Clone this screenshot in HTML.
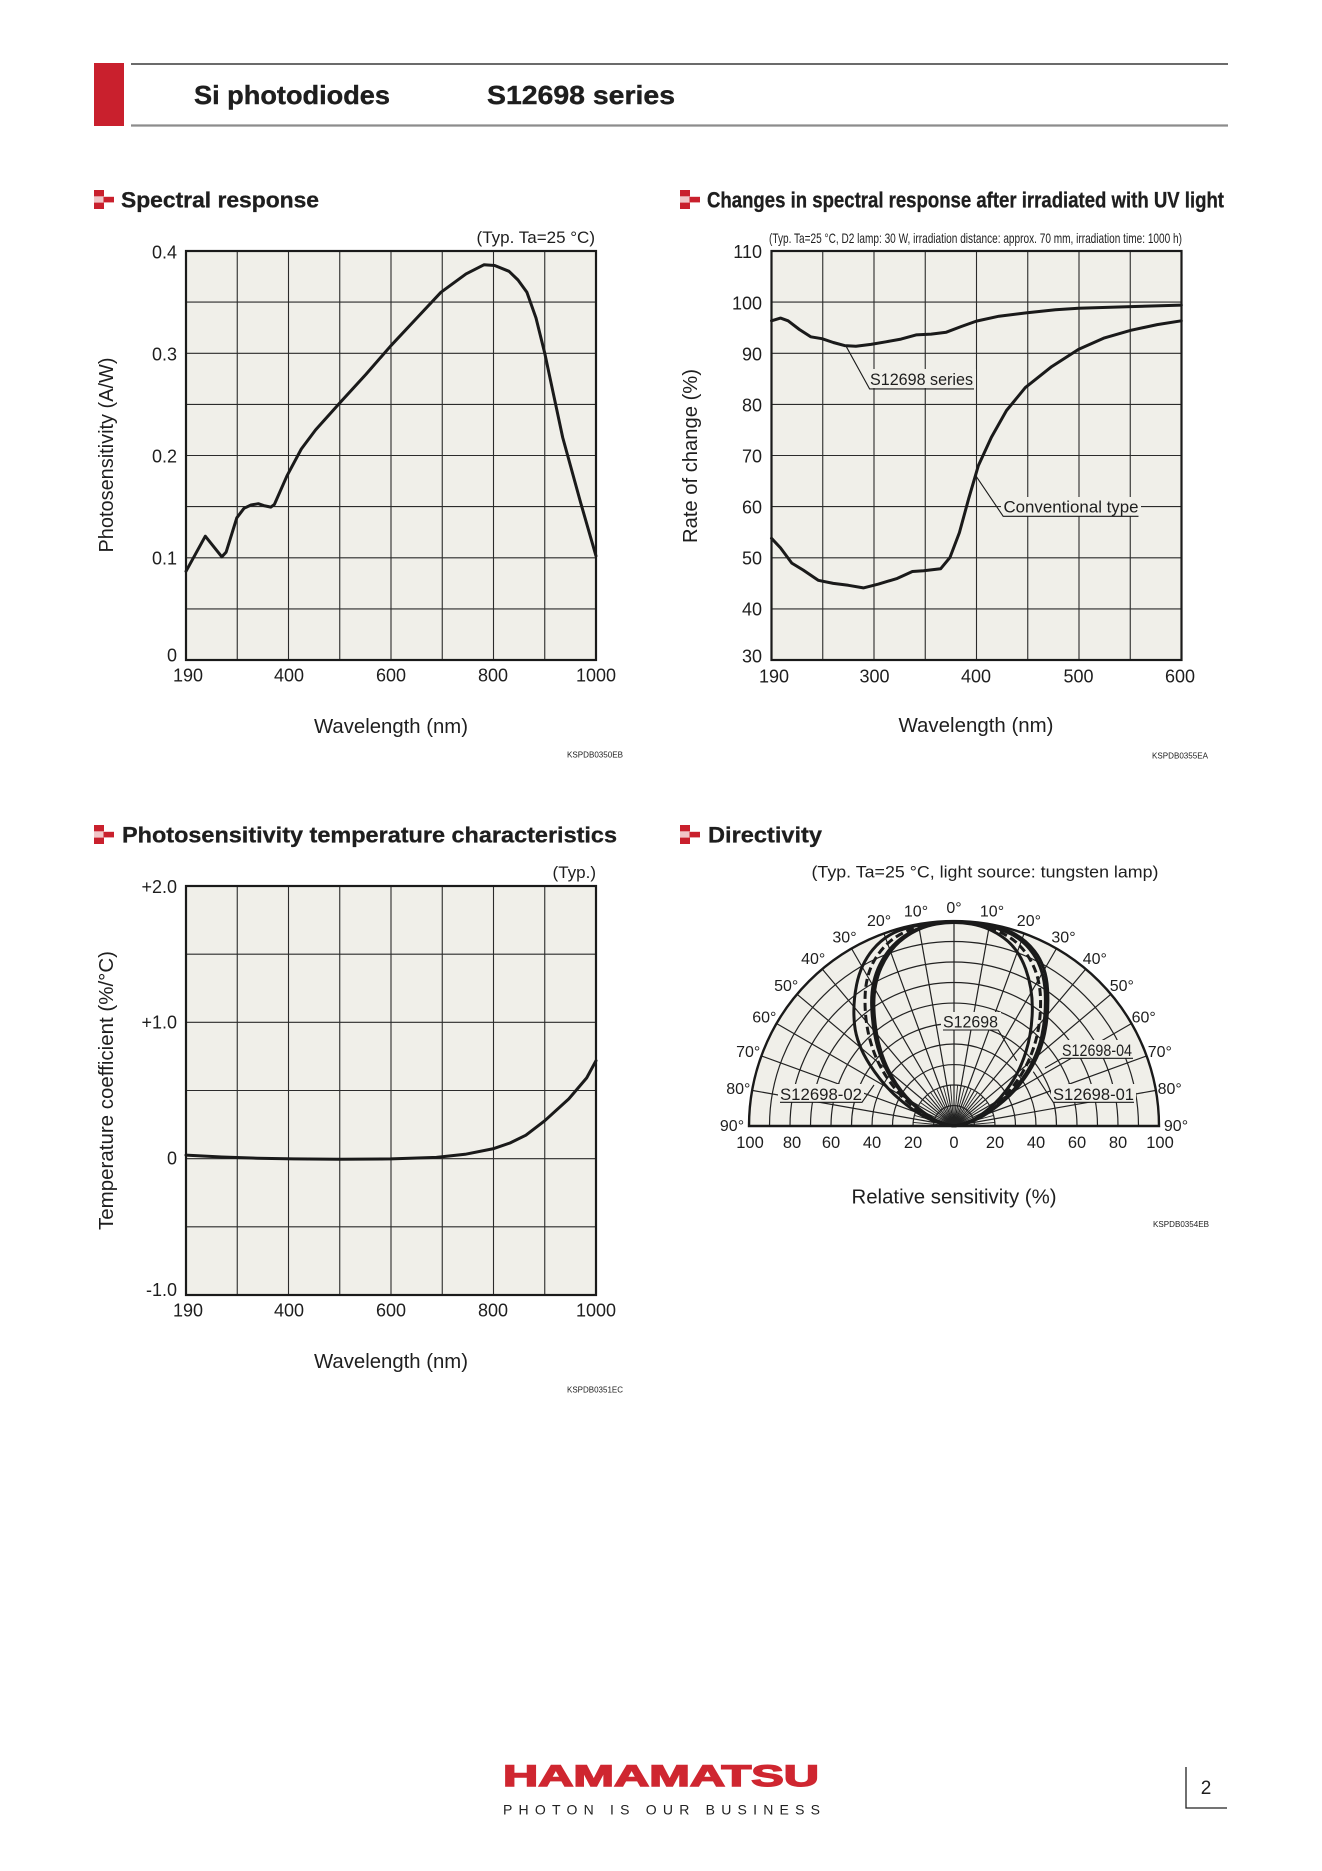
<!DOCTYPE html>
<html><head><meta charset="utf-8"><style>html,body{margin:0;padding:0;background:#fff}svg{display:block}</style></head>
<body>
<svg xmlns="http://www.w3.org/2000/svg" width="1322" height="1871" viewBox="0 0 1322 1871" font-family="'Liberation Sans', Arial, sans-serif" fill="#1e1e1e">
<defs>
<g id="ico">
<rect x="0" y="0" width="10" height="6.4" fill="#c9202d"/>
<rect x="0" y="6.4" width="10" height="6.2" fill="#f1c6c8"/>
<rect x="9.5" y="6.8" width="10.5" height="5.6" fill="#c9202d"/>
<rect x="0" y="12.6" width="10" height="6.4" fill="#c9202d"/>
</g>
</defs>

<!-- Header -->
<rect x="94" y="63" width="30" height="63" fill="#c9202d"/>
<line x1="131" y1="64" x2="1228" y2="64" stroke="#3a3a3a" stroke-width="1.6"/>
<line x1="131" y1="125.5" x2="1228" y2="125.5" stroke="#8c8c8c" stroke-width="2.2"/>
<text x="194" y="104" font-size="26" font-weight="bold" stroke="#1e1e1e" stroke-width="0.4" textLength="196" lengthAdjust="spacingAndGlyphs">Si photodiodes</text>
<text x="487" y="104" font-size="26" font-weight="bold" stroke="#1e1e1e" stroke-width="0.4" textLength="188" lengthAdjust="spacingAndGlyphs">S12698 series</text>

<!-- Section titles -->
<use href="#ico" x="94" y="190"/>
<text x="121" y="207.5" font-size="22" font-weight="bold" stroke="#1e1e1e" stroke-width="0.3" textLength="198" lengthAdjust="spacingAndGlyphs">Spectral response</text>
<use href="#ico" x="680" y="190"/>
<text x="707" y="207.5" font-size="22" font-weight="bold" stroke="#1e1e1e" stroke-width="0.3" textLength="517" lengthAdjust="spacingAndGlyphs">Changes in spectral response after irradiated with UV light</text>
<use href="#ico" x="94" y="825"/>
<text x="122" y="842.5" font-size="22" font-weight="bold" stroke="#1e1e1e" stroke-width="0.3" textLength="495" lengthAdjust="spacingAndGlyphs">Photosensitivity temperature characteristics</text>
<use href="#ico" x="680" y="825"/>
<text x="708" y="842.5" font-size="22" font-weight="bold" stroke="#1e1e1e" stroke-width="0.3" textLength="114" lengthAdjust="spacingAndGlyphs">Directivity</text>

<!-- ============ Plot 1: Spectral response ============ -->
<rect x="186" y="251" width="410" height="409" fill="#f0efe9"/>
<path d="M237.25 251V660M288.5 251V660M339.75 251V660M391 251V660M442.25 251V660M493.5 251V660M544.75 251V660M186 302.1H596M186 353.3H596M186 404.4H596M186 455.5H596M186 506.6H596M186 557.8H596M186 608.9H596" stroke="#2b2b2b" stroke-width="1.1" fill="none"/>
<rect x="186" y="251" width="410" height="409" fill="none" stroke="#1a1a1a" stroke-width="2.2"/>
<polyline fill="none" stroke="#1a1a1a" stroke-width="3" stroke-linejoin="round" stroke-linecap="round" points="186,571.3 205.3,536.2 221.8,556.8 226.1,552.2 236.8,517.8 244,508.3 251,505 258.3,503.7 263.7,505.6 270.9,507.1 274.4,504.4 287,475.8 301.3,449 315.6,429.9 339.6,403.1 365.8,374.5 390.8,345.8 415.9,319 440.9,292.3 466,273.9 483.9,264.8 494.7,265.5 509,271.3 518,280 526.9,292.3 536,318 544.8,353.4 553,392 562.7,437.5 580.6,502.5 596,556"/>
<g font-size="18" text-anchor="end">
<text x="177" y="258.5">0.4</text><text x="177" y="360.5">0.3</text><text x="177" y="462.5">0.2</text><text x="177" y="564.5">0.1</text><text x="177" y="661.5">0</text>
</g>
<g font-size="18" text-anchor="middle">
<text x="188" y="681.5">190</text><text x="289" y="681.5">400</text><text x="391" y="681.5">600</text><text x="493" y="681.5">800</text><text x="596" y="681.5">1000</text>
</g>
<text x="595" y="243" font-size="17" text-anchor="end">(Typ. Ta=25 °C)</text>
<text x="391" y="733" font-size="20" text-anchor="middle" textLength="154" lengthAdjust="spacingAndGlyphs">Wavelength (nm)</text>
<text transform="translate(113,455) rotate(-90)" font-size="20" text-anchor="middle" textLength="195" lengthAdjust="spacingAndGlyphs">Photosensitivity (A/W)</text>
<text x="567" y="757.5" font-size="8" textLength="56" lengthAdjust="spacingAndGlyphs">KSPDB0350EB</text>

<!-- ============ Plot 2: UV changes ============ -->
<rect x="771.5" y="251" width="410" height="409" fill="#f0efe9"/>
<path d="M822.75 251V660M874 251V660M925.25 251V660M976.5 251V660M1027.75 251V660M1079 251V660M1130.25 251V660M771.5 302.1H1181.5M771.5 353.3H1181.5M771.5 404.4H1181.5M771.5 455.5H1181.5M771.5 506.6H1181.5M771.5 557.8H1181.5M771.5 608.9H1181.5" stroke="#2b2b2b" stroke-width="1.1" fill="none"/>
<rect x="771.5" y="251" width="410" height="409" fill="none" stroke="#1a1a1a" stroke-width="2.2"/>
<polyline fill="none" stroke="#1a1a1a" stroke-width="3" stroke-linejoin="round" stroke-linecap="round" points="771.5,320.8 780.5,318.1 788.1,320.8 799.4,329.5 810.7,336.8 822,338.7 833.3,342.5 844.6,345.6 855.9,346.3 870.9,344.4 886,341.8 901,339.1 916.1,334.9 931.2,334.1 946.3,332.2 961.3,326.5 976.4,321.1 999,316.2 1027.2,312.7 1055.5,309.7 1078.5,308.2 1130.8,306.6 1181.3,305.1"/>
<polyline fill="none" stroke="#1a1a1a" stroke-width="3" stroke-linejoin="round" stroke-linecap="round" points="771.5,538.3 780.5,547.9 791.8,563.1 803.1,570 818.2,580.3 833.3,583.4 848.3,585.3 863.4,587.9 878.5,584.1 897.3,578.4 912.4,571.5 923.6,570.8 940.6,568.8 950,557.4 959.4,532.6 968.8,498.2 978.3,465.8 991.4,437.2 1006.5,410.5 1025.3,387.6 1051.7,366.6 1078.5,349.4 1104.4,337.9 1130.8,330.3 1157.2,324.6 1181.3,320.8"/>
<!-- labels -->
<rect x="868" y="369" width="108" height="19" fill="#f0efe9"/>
<text x="870" y="385" font-size="17" textLength="103" lengthAdjust="spacingAndGlyphs">S12698 series</text>
<path d="M846.4 346.8L869.6 388.9H974" stroke="#1a1a1a" stroke-width="1.1" fill="none"/>
<rect x="1001" y="497" width="140" height="19" fill="#f0efe9"/>
<text x="1003.5" y="512.5" font-size="17" textLength="135" lengthAdjust="spacingAndGlyphs">Conventional type</text>
<path d="M976.1 476.2L1003.2 516.3H1138.5" stroke="#1a1a1a" stroke-width="1.1" fill="none"/>
<g font-size="18" text-anchor="end">
<text x="762" y="258">110</text><text x="762" y="309.6">100</text><text x="762" y="360.5">90</text><text x="762" y="411.6">80</text><text x="762" y="462.5">70</text><text x="762" y="513.6">60</text><text x="762" y="564.5">50</text><text x="762" y="615.6">40</text><text x="762" y="662.5">30</text>
</g>
<g font-size="18" text-anchor="middle">
<text x="774" y="682.5">190</text><text x="874.5" y="682.5">300</text><text x="976" y="682.5">400</text><text x="1078.5" y="682.5">500</text><text x="1180" y="682.5">600</text>
</g>
<text x="769" y="243" font-size="14" textLength="413" lengthAdjust="spacingAndGlyphs">(Typ. Ta=25 °C, D2 lamp: 30 W, irradiation distance: approx. 70 mm, irradiation time: 1000 h)</text>
<text x="976" y="732" font-size="20" text-anchor="middle" textLength="155" lengthAdjust="spacingAndGlyphs">Wavelength (nm)</text>
<text transform="translate(697,456) rotate(-90)" font-size="20" text-anchor="middle" textLength="174" lengthAdjust="spacingAndGlyphs">Rate of change (%)</text>
<text x="1152" y="758.5" font-size="8" textLength="56" lengthAdjust="spacingAndGlyphs">KSPDB0355EA</text>

<!-- ============ Plot 3: Temperature ============ -->
<rect x="186" y="886" width="410" height="409" fill="#f0efe9"/>
<path d="M237.25 886V1295M288.5 886V1295M339.75 886V1295M391 886V1295M442.25 886V1295M493.5 886V1295M544.75 886V1295M186 954.2H596M186 1022.3H596M186 1090.5H596M186 1158.7H596M186 1226.8H596" stroke="#2b2b2b" stroke-width="1.1" fill="none"/>
<rect x="186" y="886" width="410" height="409" fill="none" stroke="#1a1a1a" stroke-width="2.2"/>
<polyline fill="none" stroke="#1a1a1a" stroke-width="3" stroke-linejoin="round" stroke-linecap="round" points="186,1155.1 221.8,1157 257.6,1158.2 293.3,1158.9 338.8,1159.3 391,1158.9 436.4,1157.4 465.1,1154.3 493.7,1148.6 510,1143 525.9,1135.2 544.8,1120.7 568.8,1098.9 586.7,1077.9 596,1060.7"/>
<g font-size="18" text-anchor="end">
<text x="177" y="893">+2.0</text><text x="177" y="1028.5">+1.0</text><text x="177" y="1164.5">0</text><text x="177" y="1296">-1.0</text>
</g>
<g font-size="18" text-anchor="middle">
<text x="188" y="1316.3">190</text><text x="289" y="1316.3">400</text><text x="391" y="1316.3">600</text><text x="493" y="1316.3">800</text><text x="596" y="1316.3">1000</text>
</g>
<text x="596" y="878" font-size="17" text-anchor="end">(Typ.)</text>
<text x="391" y="1368" font-size="20" text-anchor="middle" textLength="154" lengthAdjust="spacingAndGlyphs">Wavelength (nm)</text>
<text transform="translate(113,1090.5) rotate(-90)" font-size="20" text-anchor="middle" textLength="279" lengthAdjust="spacingAndGlyphs">Temperature coefficient (%/°C)</text>
<text x="567" y="1392.5" font-size="8" textLength="56" lengthAdjust="spacingAndGlyphs">KSPDB0351EC</text>

<!-- ============ Plot 4: Directivity ============ -->
<path d="M749 1126A205 205 0 0 1 1159 1126Z" fill="#f0efe9"/>
<g stroke="#222" stroke-width="1.2" fill="none">
<path d="M933.5 1126A20.5 20.5 0 0 1 974.5 1126M913 1126A41 41 0 0 1 995 1126M892.5 1126A61.5 61.5 0 0 1 1015.5 1126M872 1126A82 82 0 0 1 1036 1126M851.5 1126A102.5 102.5 0 0 1 1056.5 1126M831 1126A123 123 0 0 1 1077 1126M810.5 1126A143.5 143.5 0 0 1 1097.5 1126M790 1126A164 164 0 0 1 1118 1126M769.5 1126A184.5 184.5 0 0 1 1138.5 1126"/>
<path d="M954 1126L954 921M954 1126L989.6 924.1M954 1126L918.4 924.1M954 1126L1024.1 933.4M954 1126L883.9 933.4M954 1126L1056.5 948.5M954 1126L851.5 948.5M954 1126L1085.8 969M954 1126L822.2 969M954 1126L1111 994.2M954 1126L797 994.2M954 1126L1131.5 1023.5M954 1126L776.5 1023.5M954 1126L1146.6 1055.9M954 1126L761.4 1055.9M954 1126L1155.9 1090.4M954 1126L752.1 1090.4"/>
<path d="M954 1126l3.6 -40.8M954 1126l-3.6 -40.8M954 1126l10.6 -39.6M954 1126l-10.6 -39.6M954 1126l17.3 -37.2M954 1126l-17.3 -37.2M954 1126l23.5 -33.6M954 1126l-23.5 -33.6M954 1126l29 -29M954 1126l-29 -29M954 1126l33.6 -23.5M954 1126l-33.6 -23.5M954 1126l37.2 -17.3M954 1126l-37.2 -17.3M954 1126l39.6 -10.6M954 1126l-39.6 -10.6M954 1126l40.8 -3.6M954 1126l-40.8 -3.6" stroke-width="0.9"/>
</g>
<path d="M749 1126A205 205 0 0 1 1159 1126Z" fill="none" stroke="#1a1a1a" stroke-width="2.4"/>
<!-- curves -->
<g fill="none" stroke="#1a1a1a" stroke-width="3" stroke-linejoin="round">
<path d="M954 1126L945.9 1124.6Q937.8 1123.2 925.65 1117.25Q913.5 1111.3 898.25 1098.15Q883 1085 869.8 1064.65Q856.6 1044.3 854.55 1024.7Q852.5 1005.1 856.6 984.75Q860.7 964.4 872.65 949.85Q884.6 935.3 901.5 929.7Q918.4 924.1 936.2 922.55Q954 921 971.8 922.55Q989.6 924.1 1006.35 930.2Q1023.1 936.3 1034.7 951.25Q1046.3 966.2 1047.6 989.55Q1048.9 1012.9 1044.65 1033.2Q1040.4 1053.5 1029.15 1071.3Q1017.9 1089.1 1003.3 1101.25Q988.7 1113.4 978.4 1118.45Q968.1 1123.5 961.05 1124.75L954 1126"/>
<path d="M954 1126L948.95 1125.1Q943.9 1124.2 935.45 1120.2Q927 1116.2 915.65 1106.75Q904.3 1097.3 893.8 1082Q883.3 1066.7 877.8 1047.65Q872.3 1028.6 871.65 1005.4Q871 982.2 879.9 964.5Q888.8 946.8 903.8 936.45Q918.8 926.1 936.4 923.55Q954 921 971.7 923.05Q989.4 925.1 1005.9 931.65Q1022.4 938.2 1033.3 954Q1044.2 969.8 1045.2 992.95Q1046.2 1016.1 1041.7 1036.15Q1037.2 1056.2 1025.8 1073.65Q1014.4 1091.1 1000.55 1102.6Q986.7 1114.1 976.4 1119Q966.1 1123.9 960.05 1124.95L954 1126"/>
<path d="M954 1126L948.95 1125.1Q943.9 1124.2 936.45 1120.55Q929 1116.9 917.55 1107.6Q906.1 1098.3 896.3 1083.8Q886.5 1069.3 880.7 1050.55Q874.9 1031.8 873.95 1008.75Q873 985.7 881.25 967.25Q889.5 948.8 904.2 937.95Q918.9 927.1 936.45 924.05Q954 921 971.55 924.05Q989.1 927.1 1003.8 937.95Q1018.5 948.8 1025.7 969.05Q1032.9 989.3 1032.3 1011.3Q1031.7 1033.3 1025.85 1052Q1020 1070.7 1010.1 1085Q1000.2 1099.3 989.6 1108.1Q979 1116.9 971.55 1120.55Q964.1 1124.2 959.05 1125.1L954 1126"/>
<path stroke-dasharray="8 4" d="M954 1126L947.95 1124.95Q941.9 1123.9 932.55 1119.35Q923.2 1114.8 910.2 1104Q897.2 1093.2 886.35 1076.65Q875.5 1060.1 869.95 1039.65Q864.4 1019.2 865.1 996.25Q865.8 973.3 876.25 957.2Q886.7 941.1 902.65 933.1Q918.6 925.1 936.3 923.05Q954 921 971.6 923.55Q989.2 926.1 1004.9 934.55Q1020.6 943 1030.35 959.95Q1040.1 976.9 1040.55 999.65Q1041 1022.4 1035.2 1042.6Q1029.4 1062.8 1018.35 1079Q1007.3 1095.2 995.1 1105.35Q982.9 1115.5 973.5 1119.85Q964.1 1124.2 959.05 1125.1L954 1126"/>
</g>
<!-- polar labels -->
<g font-size="17">
<rect x="941" y="1012" width="60" height="18" fill="#f0efe9"/>
<text x="943" y="1027.7" textLength="55" lengthAdjust="spacingAndGlyphs">S12698</text>
<rect x="1060" y="1040" width="75" height="18" fill="#f0efe9"/>
<text x="1062" y="1056" textLength="70" lengthAdjust="spacingAndGlyphs">S12698-04</text>
<rect x="778" y="1084" width="86" height="18" fill="#f0efe9"/>
<text x="780" y="1100" textLength="82" lengthAdjust="spacingAndGlyphs">S12698-02</text>
<rect x="1051" y="1084" width="85" height="18" fill="#f0efe9"/>
<text x="1053" y="1100" textLength="81" lengthAdjust="spacingAndGlyphs">S12698-01</text>
</g>
<g stroke="#1a1a1a" stroke-width="1.1" fill="none">
<path d="M943 1030H998.3L1016.7 1060.7"/>
<path d="M1133 1058.3H1062L1045 1068"/>
<path d="M780 1102.3H862L874 1085"/>
<path d="M1134 1102.3H1053.3L1033.3 1071.7"/>
</g>
<g font-size="16" text-anchor="middle">
<text x="954" y="913">0°</text>
<text x="916" y="916.3">10°</text><text x="992" y="916.3">10°</text>
<text x="879.1" y="926.2">20°</text><text x="1028.9" y="926.2">20°</text>
<text x="844.5" y="942.3">30°</text><text x="1063.5" y="942.3">30°</text>
<text x="813.2" y="964.2">40°</text><text x="1094.8" y="964.2">40°</text>
<text x="786.2" y="991.2">50°</text><text x="1121.8" y="991.2">50°</text>
<text x="764.3" y="1022.5">60°</text><text x="1143.7" y="1022.5">60°</text>
<text x="748.2" y="1057.1">70°</text><text x="1159.8" y="1057.1">70°</text>
<text x="738.3" y="1094">80°</text><text x="1169.7" y="1094">80°</text>
<text x="732" y="1131">90°</text><text x="1176" y="1131">90°</text>
</g>
<g font-size="16.5" text-anchor="middle">
<text x="750" y="1148">100</text><text x="792" y="1148">80</text><text x="831" y="1148">60</text><text x="872" y="1148">40</text><text x="913" y="1148">20</text><text x="954" y="1148">0</text><text x="995" y="1148">20</text><text x="1036" y="1148">40</text><text x="1077" y="1148">60</text><text x="1118" y="1148">80</text><text x="1160" y="1148">100</text>
</g>
<text x="985" y="877.5" font-size="17" text-anchor="middle" textLength="347" lengthAdjust="spacingAndGlyphs">(Typ. Ta=25 °C, light source: tungsten lamp)</text>
<text x="954" y="1203.5" font-size="20" text-anchor="middle" textLength="205" lengthAdjust="spacingAndGlyphs">Relative sensitivity (%)</text>
<text x="1153" y="1227" font-size="8" textLength="56" lengthAdjust="spacingAndGlyphs">KSPDB0354EB</text>

<!-- Footer -->
<text x="503" y="1786" font-size="30" font-weight="bold" fill="#cf2630" stroke="#cf2630" stroke-width="1.4" textLength="316" lengthAdjust="spacingAndGlyphs">HAMAMATSU</text>
<text x="503" y="1814.5" font-size="14" fill="#222" textLength="317" lengthAdjust="spacing">PHOTON IS OUR BUSINESS</text>
<path d="M1186 1767V1808H1227" stroke="#222" stroke-width="1.3" fill="none"/>
<text x="1206" y="1794" font-size="19" text-anchor="middle">2</text>
</svg>
</body></html>
